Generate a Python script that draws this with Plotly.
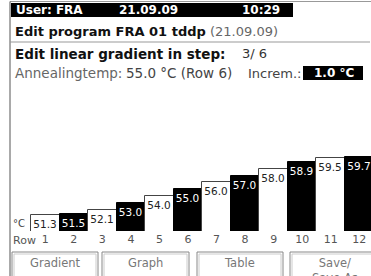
import plotly.graph_objects as go

# ---- data ----
rows = list(range(1, 13))
row_labels = [str(r) for r in rows]
temps = [51.3, 51.5, 52.1, 53.0, 54.0, 55.0, 56.0, 57.0, 58.0, 58.9, 59.5, 59.7]
buttons = ["Gradient", "Graph", "Table", "Save/<br>Save As"]

W, H = 371, 276
BASE_PX = 231          # pixel row of the bar baseline
FONT = "DejaVu Sans"


def fx(px):
    return px / W


def fy(py):
    return 1 - py / H


white = [i % 2 == 0 for i in range(len(rows))]
bar_fill = ["white" if w else "black" for w in white]
bar_line = ["#444" if w else "black" for w in white]
text_col = ["#222" if w else "white" for w in white]

fig = go.Figure(
    go.Bar(
        x=rows,
        y=temps,
        width=1,
        marker=dict(color=bar_fill, line=dict(color=bar_line, width=1)),
        texttemplate="%{y:.1f}",
        textposition="inside",
        insidetextanchor="end",
        textangle=0,
        textfont=dict(family=FONT, size=10.5, color=text_col),
        hoverinfo="skip",
    )
)

shapes = []


def rect(x0, y0, x1, y1, fill=None, line="#888", lw=1):
    shapes.append(dict(type="rect", xref="paper", yref="paper",
                       x0=fx(x0), x1=fx(x1), y0=fy(y1), y1=fy(y0),
                       fillcolor=fill if fill else "rgba(0,0,0,0)",
                       line=dict(color=line, width=lw)))


def hline(x0, x1, y, color="#888", lw=1):
    shapes.append(dict(type="line", xref="paper", yref="paper",
                       x0=fx(x0), x1=fx(x1), y0=fy(y), y1=fy(y),
                       line=dict(color=color, width=lw)))


def vline(x, y0, y1, color="#555", lw=1):
    shapes.append(dict(type="line", xref="paper", yref="paper",
                       x0=fx(x), x1=fx(x), y0=fy(y0), y1=fy(y1),
                       line=dict(color=color, width=lw)))


hline(10, 371, 1.5, "#999")
vline(10, 1.5, 276, "#555")
rect(11, 3, 293, 17, fill="black", line="black", lw=0)
hline(10, 370, 42, "#999")
rect(303, 66, 363, 80, fill="black", line="black", lw=0)

btn_x = [(12, 98), (102, 189), (197, 283), (290, 380)]
for x0, x1 in btn_x:
    rect(x0, 252, x1, 290, line="#888")
    rect(x0 + 2, 254, x1 - 2, 290, line="#ccc")

annotations = []


def txt(s, x, y, size=12, color="#222", anchor="left", bold=False):
    if bold:
        s = "<b>" + s + "</b>"
    annotations.append(dict(text=s, x=fx(x), y=fy(y), xref="paper", yref="paper",
                            xanchor=anchor, yanchor="middle", showarrow=False,
                            font=dict(family=FONT, size=size, color=color)))


txt("User: FRA", 14, 10, 12, "white", bold=True)
txt("21.09.09", 117, 10, 12, "white", bold=True)
txt("10:29", 240, 10, 12, "white", bold=True)
txt("<b>Edit program FRA 01 tddp</b> <span style='color:#666'>(21.09.09)</span>", 13, 32, 13, "#111")
txt("Edit linear gradient in step:", 13, 54, 13.5, "#111", bold=True)
txt("3/ 6", 240, 54, 13, "#333")
txt("Annealingtemp:", 13, 73, 13.5, "#666")
txt("55.0 °C (Row 6)", 124, 73, 13.5, "#444")
txt("Increm.:", 246, 73, 13, "#444")
txt("1.0 °C", 334, 73, 12, "white", anchor="center", bold=True)
txt("°C", 11, 223, 10, "#444")
txt("Row", 11, 240, 11, "#555")

for (x0, x1), label in zip(btn_x, buttons):
    cx = (x0 + min(x1, 371 + 9)) / 2
    annotations.append(dict(text=label, x=fx(cx), y=fy(254), xref="paper", yref="paper",
                            xanchor="center", yanchor="top", showarrow=False,
                            font=dict(family=FONT, size=11.5, color="#777")))

fig.update_layout(
    width=W, height=H,
    margin=dict(l=0, r=0, t=0, b=0, pad=0),
    paper_bgcolor="white", plot_bgcolor="rgba(0,0,0,0)",
    showlegend=False,
    bargap=0,
    uniformtext=dict(minsize=10.5, mode="show"),
    xaxis=dict(range=[-0.586, 12.411], tickvals=rows, ticktext=row_labels,
               showgrid=False, zeroline=False, showline=False, ticks="",
               automargin=False,
               tickfont=dict(family=FONT, size=11, color="#555"), fixedrange=True),
    yaxis=dict(range=[49, 49 + BASE_PX / 6.93], domain=[1 - BASE_PX / H, 1],
               visible=False, fixedrange=True, automargin=False),
    shapes=shapes,
    annotations=annotations,
)

fig.write_html("out.html", config={"displayModeBar": False},
               post_script="document.body.style.margin='0';")
